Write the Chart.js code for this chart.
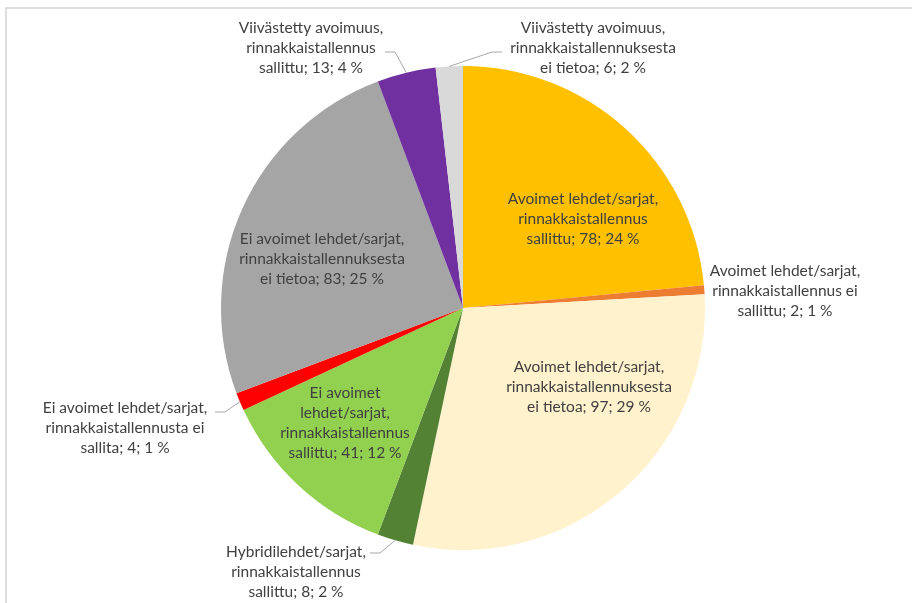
<html>
    <head>
        <title>Rinnakkaistallennus</title>
        <script src="https://cdn.jsdelivr.net/npm/chart.js@4.4.0/dist/chart.umd.min.js"></script>
        <style>
            body { margin: 0; background: #fff; overflow: hidden; }
            #wrap { position: relative; width: 912px; height: 603px; }
            #frame { position: absolute; left: 5px; top: 7px; width: 920px; height: 620px;
                     border-top: 2px solid #dedede; border-left: 2px solid #dedede; }
            canvas { position: absolute; left: 0; top: 0; }
        </style>
    </head>

    <body>
        <div id="wrap">
            <div id="frame"></div>
            <canvas id="pie" width="912" height="603"></canvas>
        </div>

        <script>
            // data
            const categories = [
                'Avoimet lehdet/sarjat, rinnakkaistallennus sallittu',
                'Avoimet lehdet/sarjat, rinnakkaistallennus ei sallittu',
                'Avoimet lehdet/sarjat, rinnakkaistallennuksesta ei tietoa',
                'Hybridilehdet/sarjat, rinnakkaistallennus sallittu',
                'Ei avoimet lehdet/sarjat, rinnakkaistallennus sallittu',
                'Ei avoimet lehdet/sarjat, rinnakkaistallennusta ei sallita',
                'Ei avoimet lehdet/sarjat, rinnakkaistallennuksesta ei tietoa',
                'Viivästetty avoimuus, rinnakkaistallennus sallittu',
                'Viivästetty avoimuus, rinnakkaistallennuksesta ei tietoa'
            ];
            const counts = [78, 2, 97, 8, 41, 4, 83, 13, 6];
            const colors = ['#FFC000', '#ED7D31', '#FFF2CC', '#548235', '#92D050',
                            '#FF0000', '#A5A5A5', '#7030A0', '#D9D9D9'];

            // label placement, offsets from the pie centre (wrap = max line width, lead = leader line start)
            const labelLayout = [
                { dx: 120, dy: -89, wrap: 165 },
                { dx: 322, dy: -17, wrap: 165 },
                { dx: 126, dy: 79, wrap: 175 },
                { dx: -167, dy: 264, wrap: 160, lead: [-93, 245] },
                { dx: -118, dy: 115, wrap: 145 },
                { dx: -338, dy: 120, wrap: 175, lead: [-248, 104] },
                { dx: -141, dy: -49, wrap: 175 },
                { dx: -152, dy: -260, wrap: 155, lead: [-78, -256] },
                { dx: 130, dy: -260, wrap: 175, lead: [39, -256] }
            ];

            const FONT = '15.5px Lato, "Liberation Sans", sans-serif';
            const total = counts.reduce((a, b) => a + b, 0);

            // whole percentages that add up to 100 (largest remainder, like Excel)
            function percents(vals) {
                const raw = vals.map(v => v / total * 100);
                const out = raw.map(Math.floor);
                let left = 100 - out.reduce((a, b) => a + b, 0);
                const order = raw.map((r, i) => i).sort((a, b) => (raw[b] % 1) - (raw[a] % 1));
                for (let k = 0; k < left; k++) out[order[k]]++;
                return out;
            }
            const pcts = percents(counts);

            function wrapText(ctx, text, maxWidth) {
                const words = text.split(' ');
                const lines = [];
                let line = '';
                words.forEach(w => {
                    const test = line ? line + ' ' + w : w;
                    if (line && ctx.measureText(test).width > maxWidth) {
                        lines.push(line);
                        line = w;
                    } else {
                        line = test;
                    }
                });
                if (line) lines.push(line);
                return lines;
            }

            const labelPlugin = {
                id: 'sliceLabels',
                afterDatasetsDraw(chart) {
                    const ctx = chart.ctx;
                    const arcs = chart.getDatasetMeta(0).data;
                    ctx.save();
                    ctx.font = FONT;
                    ctx.textAlign = 'center';
                    ctx.textBaseline = 'middle';
                    arcs.forEach((arc, i) => {
                        const p = arc.getProps(['x', 'y', 'startAngle', 'endAngle', 'outerRadius'], true);
                        const lay = labelLayout[i];
                        const text = categories[i] + '; ' + counts[i] + '; ' + pcts[i] + ' %';
                        const lines = wrapText(ctx, text, lay.wrap);
                        const lh = 20;
                        const cx = p.x + lay.dx;
                        const cy = p.y + lay.dy;

                        // leader line to the middle of the slice's rim
                        if (lay.lead) {
                            const mid = (p.startAngle + p.endAngle) / 2;
                            const ex = p.x + Math.cos(mid) * p.outerRadius;
                            const ey = p.y + Math.sin(mid) * p.outerRadius;
                            const sx = p.x + lay.lead[0];
                            const sy = p.y + lay.lead[1];
                            const kx = sx + (ex > sx ? 10 : -10);
                            ctx.strokeStyle = '#A6A6A6';
                            ctx.lineWidth = 1;
                            ctx.beginPath();
                            ctx.moveTo(sx, sy);
                            ctx.lineTo(kx, sy);
                            ctx.lineTo(ex, ey);
                            ctx.stroke();
                        }

                        ctx.fillStyle = '#404040';
                        lines.forEach((ln, k) => {
                            ctx.fillText(ln, cx, cy + (k - (lines.length - 1) / 2) * lh);
                        });
                    });
                    ctx.restore();
                }
            };

            new Chart(document.getElementById('pie').getContext('2d'), {
                type: 'pie',
                data: {
                    labels: categories,
                    datasets: [{
                        data: counts,
                        backgroundColor: colors,
                        borderWidth: 0
                    }]
                },
                options: {
                    responsive: false,
                    animation: false,
                    layout: { padding: { left: 221, right: 207, top: 66, bottom: 53 } },
                    plugins: {
                        legend: { display: false },
                        tooltip: { enabled: false }
                    }
                },
                plugins: [labelPlugin]
            });
        </script>
    </body>
</html>
